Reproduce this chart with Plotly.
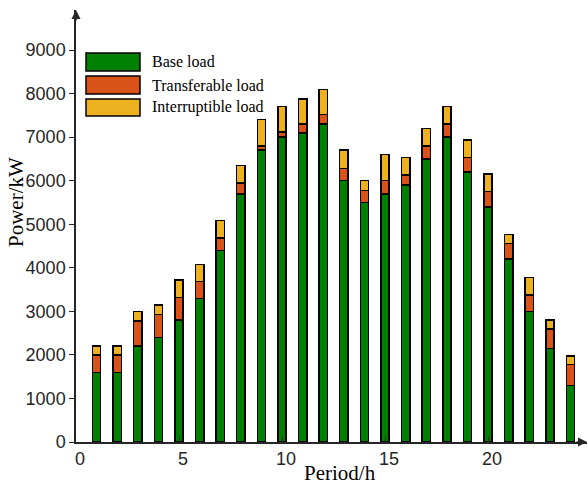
import plotly.graph_objects as go

periods = list(range(1, 25))
base_load = [1600, 1600, 2200, 2400, 2800, 3300, 4400, 5700, 6700, 7000, 7100, 7300,
             6000, 5500, 5700, 5900, 6500, 7000, 6200, 5400, 4200, 3000, 2150, 1300]
transferable_load = [400, 400, 580, 530, 520, 380, 290, 250, 100, 120, 200, 220,
                     280, 280, 300, 230, 300, 300, 330, 350, 360, 380, 450, 480]
interruptible_load = [200, 200, 220, 220, 400, 400, 400, 400, 600, 580, 580, 580,
                      420, 220, 600, 400, 400, 400, 400, 400, 200, 400, 200, 200]
series_names = ["Base load", "Transferable load", "Interruptible load"]
colors = ["#008000", "#D95319", "#EDB120"]
x_ticks = [0, 5, 10, 15, 20]
y_ticks = [0, 1000, 2000, 3000, 4000, 5000, 6000, 7000, 8000, 9000]

fig = go.Figure()
for name, vals, col in zip(series_names, [base_load, transferable_load, interruptible_load], colors):
    fig.add_trace(go.Bar(x=periods, y=vals, name=name, width=0.4,
                         marker=dict(color=col, line=dict(color="black", width=1.5)),
                         showlegend=False))

axcol = "#262626"
fig.update_layout(
    barmode="stack",
    width=588, height=486,
    margin=dict(l=76, r=1, t=10, b=44),
    plot_bgcolor="white", paper_bgcolor="white",
    xaxis=dict(range=[0, 24.8], tickvals=x_ticks, showgrid=False, zeroline=False,
               showline=True, linecolor=axcol, linewidth=1.5, ticks="inside", ticklen=5,
               tickcolor=axcol, tickfont=dict(family="Liberation Sans, Arial", size=18, color="#262626"),
               ticklabelshift=4),
    yaxis=dict(range=[0, 9920], tickvals=y_ticks, showgrid=False, zeroline=False,
               showline=True, linecolor=axcol, linewidth=1.5, ticks="outside", ticklen=5,
               tickcolor=axcol, tickfont=dict(family="Liberation Sans, Arial", size=18, color="#262626"),
               ticklabelstandoff=0),
)

# axis arrows
fig.add_annotation(xref="paper", yref="paper", x=1.0, y=0, ax=-12, ay=0, showarrow=True,
                   arrowhead=2, arrowsize=1.2, arrowwidth=1.5, arrowcolor=axcol, text="")
fig.add_annotation(xref="paper", yref="paper", x=0, y=1.0, ax=0, ay=12, showarrow=True,
                   arrowhead=2, arrowsize=1.2, arrowwidth=1.5, arrowcolor=axcol, text="")

# axis titles
fig.add_annotation(xref="paper", yref="paper", x=(340 - 76) / 511, y=-0.04,
                   xanchor="center", yanchor="top",
                   text="Period/h", showarrow=False,
                   font=dict(family="Liberation Serif, Times New Roman", size=21, color="black"))
fig.add_annotation(xref="paper", yref="paper", x=-(76 - 16) / 511, y=(442 - 202) / 432,
                   xanchor="center", yanchor="middle",
                   text="Power/kW", showarrow=False, textangle=-90,
                   font=dict(family="Liberation Serif, Times New Roman", size=21, color="black"))

# custom legend
def px_x(p):
    return (p - 76) / 511

def px_y(p):
    return (442 - p) / 432

rows = [(53, 71), (76, 94), (99, 116)]
for (y0, y1), name, col in zip(rows, series_names, colors):
    fig.add_shape(type="rect", xref="paper", yref="paper",
                  x0=px_x(86), x1=px_x(140), y0=px_y(y1), y1=px_y(y0),
                  fillcolor=col, line=dict(color="black", width=1.5))
    fig.add_annotation(xref="paper", yref="paper", x=px_x(150), y=px_y((y0 + y1) / 2),
                       xanchor="left", yanchor="middle", text=name, showarrow=False,
                       font=dict(family="Liberation Serif, Times New Roman", size=16, color="black"))

fig.write_html("out.html", config={"displayModeBar": False},
               post_script="document.body.style.margin='0px';document.body.style.overflow='hidden';")
